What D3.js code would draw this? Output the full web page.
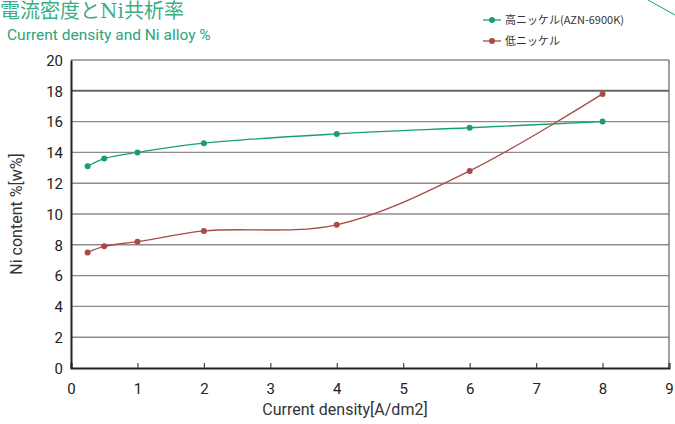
<!DOCTYPE html>
<html><head><meta charset="utf-8">
<script src="https://cdn.jsdelivr.net/npm/d3@7"></script>
<style>body{margin:0;background:#fff;}svg{display:block;}</style>
</head><body>
<svg id="c" width="675" height="424"></svg>
<script>
const xValues = [0.25, 0.5, 1, 2, 4, 6, 8];
const highNi = [13.1, 13.6, 14.0, 14.6, 15.2, 15.6, 16.0];
const lowNi = [7.5, 7.9, 8.2, 8.9, 9.3, 12.8, 17.8];
const seriesNames = ["高ニッケル(AZN-6900K)", "低ニッケル"];
const xTicks = [0,1,2,3,4,5,6,7,8,9];
const yTicks = [0,2,4,6,8,10,12,14,16,18,20];

const svg = d3.select("#c");
const green = "#16a072", red = "#a84b47";
const x = d3.scaleLinear().domain([0,9]).range([71,669]);
const y = d3.scaleLinear().domain([0,20]).range([368,60]);

// title
svg.append("text").attr("x",0).attr("y",18).attr("fill","#3aae84")
  .style("font-family","'DejaVu Serif','Noto Sans CJK JP',serif").style("font-size","20px")
  .text("電流密度とNi共析率");
svg.append("text").attr("x",7).attr("y",40).attr("fill","#2aa57a")
  .style("font-family","Roboto, sans-serif").style("font-size","15.5px")
  .text("Current density and Ni alloy %");
// decorative
svg.append("line").attr("x1",648).attr("y1",0).attr("x2",675).attr("y2",15)
  .attr("stroke",green).attr("stroke-width",1);

// grid
svg.append("g").selectAll("line").data(yTicks.filter(d=>d>0)).join("line")
  .attr("x1",x(0)).attr("x2",x(9)).attr("y1",d=>y(d)).attr("y2",d=>y(d))
  .attr("stroke",d=>d===18?"#666":"#8c8c8c").attr("stroke-width",d=>d===18?2:1.4);
svg.append("line").attr("x1",x(9)).attr("x2",x(9)).attr("y1",y(20)).attr("y2",y(0))
  .attr("stroke","#777").attr("stroke-width",1.4);

// axes
const xAxis = svg.append("g").attr("transform",`translate(0,${y(0)})`)
  .call(d3.axisBottom(x).tickValues(xTicks).tickSize(-5).tickPadding(15).tickFormat(d3.format("d")));
const yAxis = svg.append("g").attr("transform",`translate(${x(0)},0)`)
  .call(d3.axisLeft(y).tickValues(yTicks).tickSize(0).tickPadding(8));
[xAxis,yAxis].forEach(g=>{
  g.select(".domain").attr("stroke","#222").attr("stroke-width",2);
  g.selectAll(".tick line").attr("stroke","#444").attr("stroke-width",1.2);
  g.selectAll(".tick text").attr("fill","#222").style("font-family","Roboto, sans-serif").style("font-size","15px");
});
yAxis.selectAll(".tick text").attr("dy","0.35em");

// axis labels
svg.append("text").attr("x",345).attr("y",415).attr("text-anchor","middle").attr("fill","#333")
  .style("font-family","Roboto, sans-serif").style("font-size","16px").text("Current density[A/dm2]");
svg.append("text").attr("transform","translate(22,214) rotate(-90)").attr("text-anchor","middle").attr("fill","#333")
  .style("font-family","Roboto, sans-serif").style("font-size","16px").text("Ni content %[w%]");

// series
const series = [{vals:highNi,color:green},{vals:lowNi,color:red}];
const line = d3.line().x(d=>x(d[0])).y(d=>y(d[1])).curve(d3.curveCatmullRom.alpha(0.5));
series.forEach(s=>{
  const pts = xValues.map((xv,i)=>[xv,s.vals[i]]);
  svg.append("path").attr("d",line(pts)).attr("fill","none").attr("stroke",s.color).attr("stroke-width",1.3);
  svg.append("g").selectAll("circle").data(pts).join("circle")
    .attr("cx",d=>x(d[0])).attr("cy",d=>y(d[1])).attr("r",3).attr("fill",s.color);
});

// legend
seriesNames.forEach((n,i)=>{
  const ly = 20 + i*21, c = series[i].color;
  svg.append("line").attr("x1",483).attr("x2",501).attr("y1",ly).attr("y2",ly).attr("stroke",c).attr("stroke-width",1.3);
  svg.append("circle").attr("cx",492).attr("cy",ly).attr("r",3).attr("fill",c);
  svg.append("text").attr("x",505).attr("y",ly+4).attr("fill","#333")
    .style("font-family","'Noto Sans CJK JP', sans-serif").style("font-size","11px").text(n);
});
</script>
</body></html>
